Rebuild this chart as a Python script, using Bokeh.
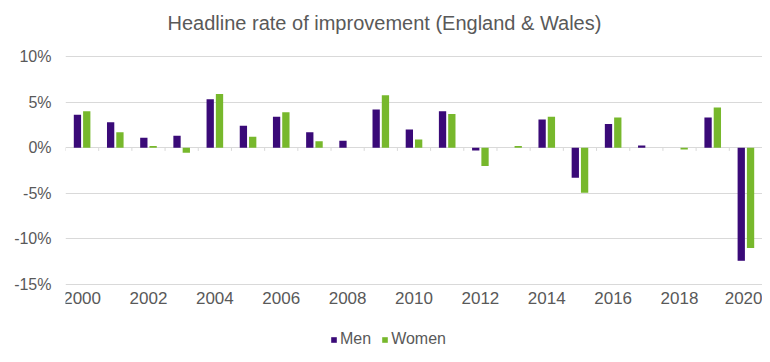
from bokeh.plotting import figure
from bokeh.models import Range1d, FixedTicker, PrintfTickFormatter, Legend, LegendItem, ColumnDataSource, Label
from bokeh.embed import file_html
from bokeh.resources import INLINE

years = list(range(2000, 2021))
men = [3.6, 2.8, 1.1, 1.3, 5.3, 2.4, 3.4, 1.7, 0.75, 4.2, 2.0, 4.0, -0.3, 0.0, 3.1, -3.3, 2.6, 0.25, 0.0, 3.3, -12.4]
women = [4.0, 1.7, 0.2, -0.55, 5.9, 1.2, 3.9, 0.7, 0.0, 5.75, 0.9, 3.7, -2.0, 0.2, 3.4, -4.95, 3.3, 0.0, -0.2, 4.4, -11.0]
y_ticks = [-15, -10, -5, 0, 5, 10]
title_text = "Headline rate of improvement (England & Wales)"

MEN_COLOR = "#3a0a78"
WOMEN_COLOR = "#77b82c"
TEXT = "#595959"
GRID = "#d9d9d9"
FONT = "Liberation Sans"

W, H = 762, 354
TOP_PX, BOT_PX = 56, 284          # pixel rows of the 10% and -15% gridlines
ppu = (BOT_PX - TOP_PX) / (y_ticks[-1] - y_ticks[0])
y_end = y_ticks[-1] + TOP_PX / ppu
y_start = y_ticks[0] - (H - BOT_PX) / ppu

p = figure(width=W, height=H, output_backend="svg", toolbar_location=None,
           x_range=Range1d(years[0] - 0.5, years[-1] + 0.5), y_range=Range1d(y_start, y_end),
           min_border=0, min_border_left=65)
p.outline_line_color = None
p.background_fill_color = "white"
p.border_fill_color = "white"
p.title = None

p.add_layout(Label(x=102, y=H - 22, x_units="screen", y_units="screen", text=title_text,
                   text_font=FONT, text_font_size="20px", text_color=TEXT,
                   text_align="left", text_baseline="middle"))

src = ColumnDataSource(dict(
    xm=[y - 0.14 for y in years], xw=[y + 0.14 for y in years], men=men, women=women,
))

# zero-line tick marks at category boundaries
bx = [y - 0.5 for y in years] + [years[-1] + 0.5]
p.segment(x0=bx, x1=bx, y0=[0] * len(bx), y1=[-0.35] * len(bx), line_color=GRID, line_width=1)

rm = p.vbar(x="xm", top="men", bottom=0, width=0.22, source=src, fill_color=MEN_COLOR, line_color=None)
rw = p.vbar(x="xw", top="women", bottom=0, width=0.22, source=src, fill_color=WOMEN_COLOR, line_color=None)

p.xgrid.visible = False
p.ygrid.ticker = FixedTicker(ticks=y_ticks)
p.ygrid.grid_line_color = GRID
p.ygrid.grid_line_width = 1

p.yaxis.ticker = FixedTicker(ticks=y_ticks)
p.yaxis.formatter = PrintfTickFormatter(format="%d%%")
p.yaxis.axis_line_color = None
p.yaxis.major_tick_line_color = None
p.yaxis.minor_tick_line_color = None
p.yaxis.major_tick_out = 0
p.yaxis.minor_tick_out = 0
p.yaxis.major_label_text_font = FONT
p.yaxis.major_label_text_font_size = "16px"
p.yaxis.major_label_text_color = TEXT
p.yaxis.major_label_standoff = 14

p.xaxis.fixed_location = y_ticks[0]
p.xaxis.ticker = FixedTicker(ticks=[y for y in years if y % 2 == 0])
p.xaxis.axis_line_color = None
p.xaxis.major_tick_line_color = None
p.xaxis.minor_tick_line_color = None
p.xaxis.major_tick_out = 0
p.xaxis.minor_tick_out = 0
p.xaxis.major_label_text_font = FONT
p.xaxis.major_label_text_font_size = "17px"
p.xaxis.major_label_text_color = TEXT
p.xaxis.major_label_standoff = 7

legend = Legend(items=[LegendItem(label="Men", renderers=[rm]), LegendItem(label="Women", renderers=[rw])],
                orientation="horizontal", location=(265, 6))
legend.glyph_width = 7
legend.glyph_height = 7
legend.label_height = 18
legend.label_standoff = 3
legend.spacing = 10
legend.padding = 0
legend.margin = 0
legend.border_line_color = None
legend.background_fill_alpha = 0
legend.label_text_font = FONT
legend.label_text_font_size = "16px"
legend.label_text_color = TEXT
p.add_layout(legend, "center")

open("out.html", "w").write(file_html(p, INLINE))
